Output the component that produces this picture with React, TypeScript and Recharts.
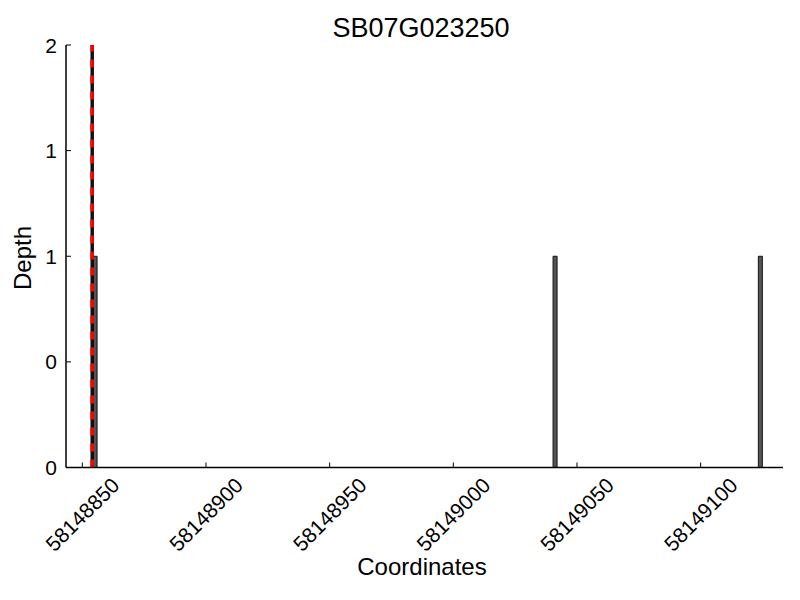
import React from "react";
import {
  ComposedChart,
  Bar,
  XAxis,
  YAxis,
  ReferenceLine,
} from "recharts";

// positions with coverage and their depth
const coords = [58148855, 58149041, 58149124];
const depths = [1, 1, 1];
const xTicks = [58148850, 58148900, 58148950, 58149000, 58149050, 58149100];
const yTicks = [0, 0.5, 1, 1.5, 2];
const xDomain = [58148843.4, 58149133.3];
const markerPos = 58148854;

const FONT = '"Liberation Sans", Arial, Helvetica, sans-serif';

const data = coords.map((c, i) => ({ pos: c, depth: depths[i] }));

function XTick(props: any) {
  const { x, y, payload } = props;
  const cy = y + 47;
  return (
    <g>
      <line x1={x} y1={y} x2={x} y2={y - 5} stroke="#000" strokeWidth={1} />
      <text
        x={x}
        y={cy}
        textAnchor="middle"
        dominantBaseline="central"
        fontSize={21}
        fontFamily={FONT}
        fill="#000"
        transform={`rotate(-45 ${x} ${cy})`}
      >
        {payload.value}
      </text>
    </g>
  );
}

function YTick(props: any) {
  const { x, y, payload } = props;
  return (
    <g>
      <line x1={x} y1={y} x2={x + 5} y2={y} stroke="#000" strokeWidth={1} />
      <text
        x={x - 9}
        y={y}
        textAnchor="end"
        dominantBaseline="central"
        fontSize={21}
        fontFamily={FONT}
        fill="#000"
      >
        {Math.floor(payload.value)}
      </text>
    </g>
  );
}

export default function App() {
  return (
    <div style={{ position: "absolute", left: 0, top: 0, width: 800, height: 600, background: "#fff" }}>
      <ComposedChart
        width={800}
        height={600}
        data={data}
        margin={{ top: 45, right: 17, bottom: 0, left: 0 }}
      >
        <XAxis
          dataKey="pos"
          type="number"
          domain={xDomain}
          allowDataOverflow
          ticks={xTicks}
          interval={0}
          height={132.5}
          tickSize={0}
          tickMargin={0}
          tickLine={false}
          tick={<XTick />}
          axisLine={{ stroke: "#000", strokeWidth: 1.5 }}
        />
        <YAxis
          type="number"
          domain={[0, 2]}
          ticks={yTicks}
          interval={0}
          width={66}
          tickSize={0}
          tickMargin={0}
          tickLine={false}
          tick={<YTick />}
          axisLine={{ stroke: "#000", strokeWidth: 1.5 }}
        />
        <Bar
          dataKey="depth"
          barSize={4}
          fill="#555"
          stroke="#111"
          strokeWidth={1}
          isAnimationActive={false}
        />
        <ReferenceLine x={markerPos} stroke="#111" strokeWidth={3.5} />
        <ReferenceLine x={markerPos} stroke="#ff0000" strokeWidth={3.5} strokeDasharray="8 8" />
      </ComposedChart>
      <svg
        width={800}
        height={600}
        style={{ position: "absolute", left: 0, top: 0, pointerEvents: "none" }}
      >
        <text x={421} y={37} textAnchor="middle" fontSize={27} fontFamily={FONT} fill="#000">
          SB07G023250
        </text>
        <text x={422} y={575} textAnchor="middle" fontSize={24} fontFamily={FONT} fill="#000">
          Coordinates
        </text>
        <text
          x={31}
          y={258}
          textAnchor="middle"
          fontSize={24}
          fontFamily={FONT}
          fill="#000"
          transform="rotate(-90 31 258)"
        >
          Depth
        </text>
      </svg>
    </div>
  );
}
